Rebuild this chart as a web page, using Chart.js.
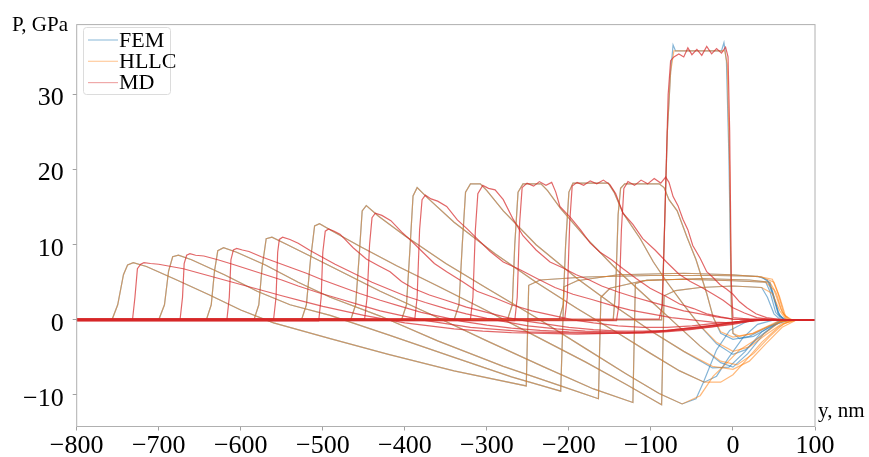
<!DOCTYPE html>
<html lang="en">
<head>
    <meta charset="utf-8">
    <title></title>
    <script src="https://cdn.jsdelivr.net/npm/chart.js"></script>
    <style>
        html, body { margin: 0; padding: 0; background: #fff; }
        canvas { display: block; }
    </style>
</head>
<body>
<canvas id="myChart" width="869" height="457"></canvas>
<script>
    // ticks
    const xTicks = [-800, -700, -600, -500, -400, -300, -200, -100, 0, 100];
    const yTicks = [-10, 0, 10, 20, 30];
    const legendNames = ['FEM', 'HLLC', 'MD'];

    // HLLC profiles, one per snapshot [y nm, P GPa]
    const hllc0 = [[-800, 0], [-87, 0], [-84, 10], [-80, 25], [-76, 33], [-72, 35.8], [-10, 35.8], [-7, 34], [-4, 20], [-2, 2], [0, -1.8], [8, -2.2], [25, -1.8], [45, -0.8], [65, 0], [100, 0]];
    const hllc1 = [[-800, 0], [-146, 0], [-143, 4], [-140, 14], [-137, 17.5], [-132, 18.1], [-90, 18.1], [-84, 17.6], [-78, 16], [-68, 14.5], [-56, 11], [-45, 8], [-32, 3.5], [-24, 0.3], [-15, -1.6], [0, -2.3], [24, -1.8], [53, -0.3], [80, 0], [100, 0]];
    const hllc2 = [[-800, 0], [-212, 0], [-207, 2], [-204, 10], [-200, 17], [-195, 18.2], [-152, 18.2], [-145, 17], [-134, 14.2], [-113, 10.8], [-97, 7.7], [-81, 5.1], [-60, 2], [-40, -0.8], [-20, -3], [0, -4.2], [20, -3.6], [40, -2], [60, -0.5], [78, 0], [100, 0]];
    const hllc3 = [[-800, 0], [-275, 0], [-269, 2], [-266, 10], [-262, 17], [-256, 18.1], [-234, 18.1], [-226, 17.2], [-210, 14.8], [-180, 11], [-140, 6.5], [-100, 2.5], [-70, -0.5], [-40, -3.5], [-15, -5.5], [5, -6], [25, -4.5], [45, -2.2], [62, -0.5], [78, 0], [100, 0]];
    const hllc4 = [[-800, 0], [-340, 0], [-334, 2], [-330, 10], [-326, 17], [-320, 18.1], [-308, 18.1], [-300, 17.2], [-280, 14.5], [-240, 10], [-190, 5.5], [-140, 1.5], [-100, -1.5], [-60, -4.2], [-25, -6.2], [0, -6.6], [20, -5.5], [40, -3.2], [60, -1], [78, 0], [100, 0]];
    const hllc5 = [[-800, 0], [-404, 0], [-398, 2], [-394, 9], [-390, 16.5], [-385, 17.6], [-372, 16.2], [-340, 13], [-290, 8.8], [-240, 5], [-190, 1.5], [-140, -1.8], [-100, -4.5], [-65, -6.8], [-35, -8.3], [-15, -8.3], [0, -7.3], [15, -5.5], [35, -3], [55, -1], [72, 0], [100, 0]];
    const hllc6 = [[-800, 0], [-466, 0], [-460, 2], [-456, 8], [-452, 14.5], [-447, 15.2], [-432, 13.8], [-400, 11.2], [-350, 7.5], [-300, 4.2], [-240, 0.3], [-180, -3.8], [-130, -7.2], [-90, -9.8], [-62, -11.2], [-40, -10.1], [-24, -7.5], [-8, -5.8], [8, -4], [33, -2.3], [57, -0.3], [75, 0], [100, 0]];
    const hllc7 = [[-800, 0], [-526, 0], [-520, 2], [-515, 8], [-510, 12.5], [-504, 12.8], [-488, 11.8], [-455, 9.8], [-410, 7.2], [-360, 4.5], [-300, 1.2], [-240, -2.2], [-180, -5.6], [-130, -8.6], [-87, -11.3], [-84, 3.2], [-70, 3.9], [-40, 4.3], [0, 4.5], [35, 4.3], [48, 3.5], [57, 1.2], [65, 0], [100, 0]];
    const hllc8 = [[-800, 0], [-584, 0], [-578, 2], [-574, 7], [-569, 10.8], [-562, 11], [-545, 10.1], [-510, 8.2], [-470, 6], [-430, 3.8], [-370, 0.8], [-300, -2.8], [-230, -6.3], [-170, -9.2], [-122, -11], [-119, 4.8], [-105, 5.3], [-60, 5.4], [0, 5.2], [40, 5], [50, 4], [58, 1.5], [66, 0], [100, 0]];
    const hllc9 = [[-800, 0], [-642, 0], [-636, 2], [-632, 6.5], [-628, 9.2], [-621, 9.6], [-605, 9], [-570, 7.3], [-530, 5], [-491, 3], [-430, 0.5], [-360, -2.8], [-280, -6.2], [-210, -8.8], [-164, -10.5], [-161, 3], [-150, 4.2], [-110, 5.2], [-40, 5.5], [20, 5.3], [45, 5], [53, 3.5], [60, 1], [68, 0], [100, 0]];
    const hllc10 = [[-800, 0], [-700, 0], [-693, 2], [-688, 6.5], [-683, 8.4], [-676, 8.6], [-660, 8], [-620, 6], [-580, 3.8], [-540, 2], [-491, 0.6], [-420, -2], [-340, -5], [-270, -7.6], [-210, -9.5], [-206, 4.4], [-190, 5.2], [-140, 6], [-60, 6.2], [0, 6], [35, 5.7], [50, 5], [57, 3], [64, 0.5], [72, 0], [100, 0]];
    const hllc11 = [[-800, 0], [-757, 0], [-750, 2], [-743, 6], [-738, 7.3], [-731, 7.6], [-715, 7.1], [-680, 5.4], [-640, 3.4], [-600, 1.3], [-560, -0.4], [-491, -2.5], [-420, -4.6], [-340, -6.8], [-252, -8.8], [-249, 4.6], [-235, 5.3], [-180, 5.7], [-100, 5.9], [-20, 5.9], [30, 5.8], [48, 5.4], [55, 3.5], [62, 0.8], [70, 0], [100, 0]];

    // FEM follows HLLC up to the first point of its tail
    const femTail0 = [[-76, 33], [-73, 36.6], [-70, 35.8], [-14, 35.8], [-11, 36.9], [-8, 34.5], [-5, 22], [-2, 2], [0, -1.8], [8, -2.5], [25, -2.2], [45, -1], [65, 0], [100, 0]];
    const femTail1 = [[-15, -1.8], [0, -2.6], [20, -2.2], [45, -0.8], [70, 0], [100, 0]];
    const femTail2 = [[-20, -3.2], [0, -4.6], [15, -4], [35, -2], [55, -0.3], [70, 0], [100, 0]];
    const femTail3 = [[-15, -5.7], [0, -6.3], [18, -4.5], [38, -1.8], [58, -0.2], [72, 0], [100, 0]];
    const femTail4 = [[-25, -6.4], [-5, -6.3], [15, -4.2], [35, -1.6], [55, -0.2], [70, 0], [100, 0]];
    const femTail5 = [[-35, -8.3], [-20, -7.5], [-5, -5], [12, -2.4], [30, -0.6], [50, 0], [100, 0]];
    const femTail6 = [[-45, -10.5], [-36, -8.3], [-20, -4], [-4, -1.4], [21, 0], [100, 0]];
    const femTail7 = [[35, 4.3], [42, 3], [50, 0.8], [58, 0], [100, 0]];
    const femTail8 = [[40, 5], [45, 3.8], [52, 1], [60, 0], [100, 0]];
    const femTail9 = [[45, 5], [49, 3.5], [55, 1], [62, 0], [100, 0]];
    const femTail10 = [[35, 5.7], [44, 5], [50, 3], [57, 0.5], [65, 0], [100, 0]];
    const femTail11 = [[30, 5.8], [42, 5.3], [48, 3.5], [55, 0.8], [63, 0], [100, 0]];

    // MD profiles
    const md0 = [[-800, 0.1], [-90, 0.1], [-86, 2], [-82, 18], [-79, 30], [-76, 34.5], [-72, 35], [-66, 35.4], [-60, 35], [-55, 36.2], [-50, 35.3], [-44, 36], [-38, 35.2], [-32, 36.4], [-26, 35.4], [-20, 36.1], [-14, 35.5], [-9, 36.3], [-6, 35], [-4, 25], [-2, 5], [0, 0.3], [20, 0.1], [100, 0]];
    const md1 = [[-800, -0.1], [-142, -0.1], [-139, 2], [-136, 12], [-133, 17.5], [-128, 18.4], [-120, 17.9], [-112, 18.6], [-104, 18.1], [-96, 18.8], [-88, 18.2], [-82, 19], [-78, 18.3], [-73, 16.4], [-67, 15.2], [-61, 13.4], [-55, 12], [-49, 9.9], [-40, 8.2], [-32, 6.4], [-24, 5.6], [-16, 4.7], [-8, 4.1], [0, 3.4], [8, 2.4], [17, 1.6], [28, 0.8], [41, 0.3], [60, 0], [100, 0]];
    const md2 = [[-800, 0.15], [-205, 0.15], [-202, 3], [-199, 13], [-196, 17.8], [-190, 18.3], [-182, 17.9], [-174, 18.5], [-166, 18.1], [-158, 18.6], [-150, 18], [-143, 16.8], [-134, 14.2], [-122, 12.7], [-110, 10.8], [-95, 9.3], [-81, 7.7], [-66, 6.1], [-52, 5.1], [-38, 4.3], [-24, 3.4], [-12, 2.6], [0, 1.6], [14, 0.9], [29, 0.3], [50, 0], [100, 0]];
    const md3 = [[-800, -0.12], [-266, -0.12], [-263, 3], [-260, 13], [-257, 17.6], [-251, 18.2], [-243, 17.8], [-236, 18.4], [-228, 17.9], [-221, 18.3], [-216, 17], [-211, 15.1], [-198, 13.6], [-186, 12], [-174, 10.2], [-162, 9], [-148, 8], [-134, 6.8], [-118, 5.5], [-101, 4.2], [-83, 3.2], [-65, 2.1], [-48, 1.5], [-32, 0.8], [-15, 0.4], [0, 0.1], [100, 0]];
    const md4 = [[-800, 0.08], [-320, 0.08], [-317, 3], [-314, 12], [-311, 16.8], [-305, 17.9], [-298, 17.5], [-290, 17.3], [-280, 16], [-268, 13.4], [-256, 11.2], [-240, 9.3], [-223, 7.7], [-207, 6.9], [-191, 6], [-175, 5.3], [-160, 4.5], [-140, 3.7], [-120, 3], [-100, 2.4], [-80, 1.8], [-60, 1.2], [-40, 0.8], [-20, 0.4], [0, 0.1], [100, 0]];
    const md5 = [[-800, -0.05], [-388, -0.05], [-385, 3], [-382, 12], [-379, 16], [-375, 16.6], [-368, 16.1], [-360, 15.8], [-349, 15.1], [-336, 13.3], [-324, 12.1], [-312, 10.8], [-296, 9.1], [-280, 7.7], [-260, 6.7], [-239, 5.5], [-217, 4.3], [-195, 3.4], [-172, 2.7], [-150, 2], [-125, 1.3], [-100, 0.8], [-75, 0.3], [-50, 0], [-25, -0.3], [0, -0.4], [20, -0.2], [40, 0], [100, 0]];
    const md6 = [[-800, 0.12], [-449, 0.12], [-446, 3], [-443, 10], [-440, 13.6], [-436, 14.2], [-428, 13.9], [-417, 13.2], [-404, 11.7], [-391, 10.4], [-378, 9], [-364, 7.5], [-349, 6.4], [-330, 5.1], [-312, 3.8], [-290, 2.9], [-270, 2], [-245, 1.2], [-220, 0.6], [-195, 0], [-170, -0.4], [-140, -0.8], [-110, -1], [-80, -1], [-50, -0.8], [-25, -0.5], [0, -0.3], [30, 0], [100, 0]];
    const md7 = [[-800, -0.15], [-505, -0.15], [-502, 3], [-500, 9], [-497, 11.8], [-493, 12.1], [-486, 11.8], [-479, 11.4], [-463, 9.6], [-447, 8.1], [-432, 7.2], [-418, 6.4], [-404, 5.1], [-390, 4.2], [-370, 3.3], [-350, 2.6], [-325, 1.7], [-300, 1], [-275, 0.3], [-250, -0.2], [-225, -0.6], [-200, -1], [-170, -1.3], [-140, -1.5], [-110, -1.5], [-80, -1.4], [-55, -1.1], [-30, -0.8], [10, -0.2], [40, 0], [100, 0]];
    const md8 = [[-800, 0.05], [-560, 0.05], [-557, 3], [-555, 9], [-553, 10.7], [-549, 11], [-540, 10.7], [-530, 10.2], [-515, 9.2], [-500, 8.3], [-485, 7.4], [-470, 6.6], [-455, 5.8], [-440, 5], [-420, 4.1], [-400, 3.2], [-375, 2.3], [-350, 1.5], [-325, 0.8], [-300, 0.2], [-275, -0.3], [-250, -0.8], [-215, -1.2], [-180, -1.5], [-145, -1.6], [-110, -1.7], [-80, -1.5], [-50, -1.2], [-25, -0.9], [0, -0.5], [30, 0], [100, 0]];
    const md9 = [[-800, -0.08], [-617, -0.08], [-614, 3], [-612, 8], [-609, 9.3], [-605, 9.5], [-598, 9.3], [-590, 9.1], [-575, 8.4], [-560, 7.8], [-540, 7], [-520, 6.2], [-500, 5.3], [-480, 4.5], [-455, 3.5], [-430, 2.6], [-405, 1.8], [-380, 1], [-355, 0.4], [-330, -0.2], [-300, -0.7], [-270, -1.1], [-235, -1.4], [-200, -1.6], [-165, -1.7], [-130, -1.8], [-95, -1.7], [-60, -1.4], [-30, -1], [0, -0.6], [30, 0], [100, 0]];
    const md10 = [[-800, 0.02], [-674, 0.02], [-671, 3], [-669, 7.5], [-666, 8.6], [-662, 8.8], [-655, 8.6], [-645, 8.5], [-628, 8], [-610, 7.4], [-590, 6.7], [-570, 6], [-550, 5.3], [-530, 4.5], [-505, 3.6], [-480, 2.8], [-455, 2], [-430, 1.2], [-405, 0.6], [-380, 0], [-350, -0.5], [-320, -1], [-285, -1.3], [-250, -1.6], [-210, -1.7], [-170, -1.8], [-130, -1.7], [-90, -1.5], [-55, -1.1], [-20, -0.7], [20, 0], [100, 0]];
    const md11 = [[-800, -0.02], [-732, -0.02], [-729, 3], [-726, 6.8], [-722, 7.4], [-718, 7.6], [-710, 7.5], [-700, 7.4], [-685, 7.1], [-670, 6.8], [-650, 6.2], [-630, 5.6], [-610, 5], [-590, 4.4], [-570, 3.8], [-550, 3.2], [-525, 2.5], [-500, 1.8], [-475, 1.2], [-450, 0.6], [-425, 0.1], [-400, -0.4], [-370, -0.8], [-340, -1.2], [-305, -1.5], [-270, -1.7], [-230, -1.8], [-190, -1.9], [-150, -1.8], [-110, -1.7], [-75, -1.4], [-40, -1], [10, -0.2], [40, 0], [100, 0]];

    const hllcProfiles = [hllc0, hllc1, hllc2, hllc3, hllc4, hllc5, hllc6, hllc7, hllc8, hllc9, hllc10, hllc11];
    const femTails = [femTail0, femTail1, femTail2, femTail3, femTail4, femTail5, femTail6, femTail7, femTail8, femTail9, femTail10, femTail11];
    const mdProfiles = [md0, md1, md2, md3, md4, md5, md6, md7, md8, md9, md10, md11];

    const FONT = '"Liberation Serif", "Times New Roman", serif';
    const FEM_COLOR = 'rgba(31, 119, 180, 0.55)';
    const HLLC_COLOR = 'rgba(255, 127, 14, 0.55)';
    const MD_COLOR = 'rgba(214, 39, 40, 0.7)';

    function toXY(points) {
        return points.map(p => ({x: p[0], y: p[1]}));
    }

    function lineSet(points, color) {
        return {
            data: toXY(points),
            borderColor: color,
            borderWidth: 1.2,
            pointRadius: 0,
            fill: false,
            tension: 0,
        };
    }

    const datasets = [];
    // first in the list is drawn on top
    mdProfiles.forEach(p => datasets.push(lineSet(p, MD_COLOR)));
    hllcProfiles.forEach(p => datasets.push(lineSet(p, HLLC_COLOR)));
    hllcProfiles.forEach((p, i) => {
        const tail = femTails[i];
        const fem = p.filter(q => q[0] < tail[0][0]).concat(tail);
        datasets.push(lineSet(fem, FEM_COLOR));
    });

    const minus = v => (v < 0 ? '\u2212' + Math.abs(v) : String(v));

    const decorations = {
        id: 'decorations',
        afterDraw(chart) {
            const ctx = chart.ctx;
            const a = chart.chartArea;
            ctx.save();
            ctx.strokeStyle = '#b0b0b0';
            ctx.lineWidth = 1;
            ctx.strokeRect(a.left, a.top, a.right - a.left, a.bottom - a.top);

            ctx.fillStyle = '#000';
            ctx.textBaseline = 'alphabetic';
            ctx.textAlign = 'left';
            ctx.font = '21px ' + FONT;
            ctx.fillText('P, GPa', 12, 31);
            ctx.fillText('y, nm', 818, 417);

            // legend
            ctx.fillStyle = 'rgba(255,255,255,0.85)';
            ctx.strokeStyle = '#dcdcdc';
            ctx.beginPath();
            ctx.roundRect(83.5, 27.5, 87, 67, 3);
            ctx.fill();
            ctx.stroke();
            const colors = ['rgba(31,119,180,0.45)', 'rgba(255,127,14,0.4)', 'rgba(214,39,40,0.4)'];
            ctx.font = '22px ' + FONT;
            ctx.textBaseline = 'middle';
            legendNames.forEach((name, i) => {
                const y = 40 + i * 21.3;
                ctx.strokeStyle = colors[i];
                ctx.lineWidth = 1.2;
                ctx.beginPath();
                ctx.moveTo(88, y);
                ctx.lineTo(118, y);
                ctx.stroke();
                ctx.fillStyle = '#000';
                ctx.fillText(name, 119, y + 1);
            });
            ctx.restore();
        }
    };

    new Chart(document.getElementById('myChart').getContext('2d'), {
        type: 'line',
        data: {datasets: datasets},
        options: {
            responsive: false,
            animation: false,
            devicePixelRatio: 1,
            layout: {padding: {left: 0, top: 19.5, right: 54, bottom: 0}},
            plugins: {legend: {display: false}, tooltip: {enabled: false}},
            scales: {
                x: {
                    type: 'linear',
                    min: -800,
                    max: 100,
                    afterBuildTicks: s => { s.ticks = xTicks.map(v => ({value: v})); },
                    afterFit: s => { s.height = 30.5; },
                    border: {display: false},
                    grid: {drawOnChartArea: false, drawTicks: true, tickLength: 4, color: '#a0a0a0'},
                    ticks: {
                        callback: v => minus(v),
                        color: '#000',
                        font: {family: FONT, size: 26},
                        padding: 0,
                        maxRotation: 0,
                        autoSkip: false,
                    }
                },
                y: {
                    type: 'linear',
                    min: -14.2,
                    max: 39.3,
                    afterBuildTicks: s => { s.ticks = yTicks.map(v => ({value: v})); },
                    afterFit: s => { s.width = 76.7; },
                    border: {display: false},
                    grid: {drawOnChartArea: false, drawTicks: true, tickLength: 4, color: '#a0a0a0'},
                    ticks: {
                        callback: v => minus(v),
                        color: '#000',
                        font: {family: FONT, size: 26},
                        padding: 9,
                        labelOffset: 4,
                    }
                }
            }
        },
        plugins: [decorations]
    });
</script>
</body>
</html>
